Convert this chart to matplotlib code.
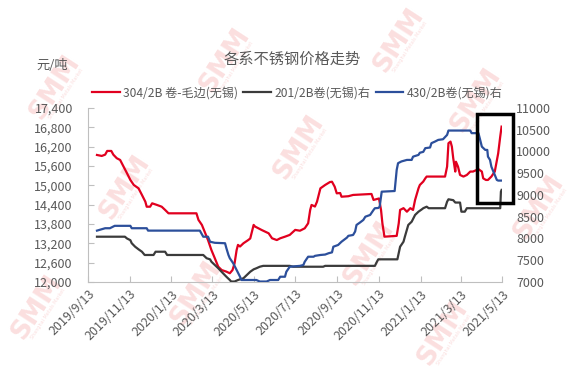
import numpy as np
import pandas as pd
import matplotlib
matplotlib.use("Agg")
import matplotlib.pyplot as plt
import matplotlib.dates as mdates
from matplotlib.patches import Rectangle
from matplotlib.ticker import FuncFormatter

plt.rcParams['font.family'] = ['Noto Sans CJK SC', 'DejaVu Sans']

# 304/2B 卷-毛边(无锡), left axis
dates_304 = ["2019-09-26", "2019-10-03", "2019-10-08", "2019-10-11", "2019-10-17", "2019-10-20",
             "2019-10-25", "2019-10-30", "2019-11-04", "2019-11-09", "2019-11-14", "2019-11-19",
             "2019-11-26", "2019-12-01", "2019-12-06", "2019-12-08", "2019-12-13", "2019-12-16",
             "2019-12-23", "2019-12-30", "2020-01-04", "2020-01-09", "2020-02-19", "2020-02-22",
             "2020-02-27", "2020-03-03", "2020-03-07", "2020-03-12", "2020-03-17", "2020-03-22",
             "2020-03-27", "2020-04-03", "2020-04-08", "2020-04-12", "2020-04-15", "2020-04-18",
             "2020-04-20", "2020-04-23", "2020-04-28", "2020-05-05", "2020-05-08", "2020-05-13",
             "2020-05-15", "2020-05-20", "2020-05-25", "2020-05-30", "2020-06-04", "2020-06-09",
             "2020-06-16", "2020-06-21", "2020-06-28", "2020-07-05", "2020-07-13", "2020-07-20",
             "2020-07-27", "2020-08-01", "2020-08-04", "2020-08-06", "2020-08-11", "2020-08-14",
             "2020-08-19", "2020-08-26", "2020-09-02", "2020-09-05", "2020-09-09", "2020-09-12",
             "2020-09-17", "2020-09-19", "2020-09-29", "2020-10-06", "2020-11-02", "2020-11-05",
             "2020-11-13", "2020-11-16", "2020-11-18", "2020-11-21", "2020-12-09", "2020-12-12",
             "2020-12-14", "2020-12-19", "2020-12-24", "2020-12-29", "2021-01-02", "2021-01-05",
             "2021-01-10", "2021-01-12", "2021-01-17", "2021-01-20", "2021-01-22", "2021-02-18",
             "2021-02-21", "2021-02-23", "2021-02-26", "2021-02-28", "2021-03-02", "2021-03-05",
             "2021-03-06", "2021-03-09", "2021-03-12", "2021-03-17", "2021-03-22", "2021-03-27",
             "2021-03-31", "2021-04-08", "2021-04-13", "2021-04-15", "2021-04-19", "2021-04-22",
             "2021-04-27", "2021-05-02", "2021-05-07", "2021-05-10", "2021-05-12"]
price_304 = [15940, 15910, 15950, 16065, 16065, 15950,
             15840, 15785, 15580, 15375, 15165, 15010,
             14905, 14700, 14490, 14335, 14335, 14440,
             14390, 14335, 14235, 14130, 14130, 13925,
             13770, 13510, 13300, 12990, 12735, 12475,
             12370, 12320, 12270, 12370, 12580, 12990,
             13150, 13100, 13200, 13300, 13350, 13770,
             13720, 13665, 13610, 13560, 13510, 13355,
             13300, 13355, 13405, 13460, 13615, 13590,
             13665, 13820, 14235, 14390, 14340, 14490,
             14905, 15010, 15100, 15110, 14955, 14750,
             14760, 14645, 14660, 14700, 14730, 14545,
             14590, 14235, 13820, 13405, 13430, 13820,
             14235, 14290, 14180, 14290, 14235, 14545,
             14905, 15010, 15115, 15215, 15270, 15270,
             15580, 16305, 16355, 16200, 15840, 15425,
             15730, 15580, 15320, 15270, 15320, 15425,
             15425, 15500, 15425, 15215, 15165, 15165,
             15270, 15425, 15990, 16510, 16820]

# 201/2B卷(无锡), right axis
dates_201 = ["2019-09-26", "2019-11-06", "2019-11-09", "2019-11-14", "2019-11-16", "2019-11-21",
             "2019-11-26", "2019-12-01", "2019-12-05", "2019-12-18", "2019-12-21", "2020-01-04",
             "2020-01-07", "2020-02-29", "2020-03-05", "2020-03-10", "2020-03-12", "2020-03-17",
             "2020-03-22", "2020-03-29", "2020-04-03", "2020-04-08", "2020-04-10", "2020-04-15",
             "2020-04-20", "2020-04-28", "2020-05-03", "2020-05-08", "2020-05-13", "2020-05-17",
             "2020-05-22", "2020-05-27", "2020-07-05", "2020-07-10", "2020-08-23", "2020-08-26",
             "2020-11-07", "2020-11-10", "2020-11-12", "2020-12-10", "2020-12-14", "2020-12-19",
             "2020-12-21", "2020-12-26", "2020-12-31", "2021-01-05", "2021-01-10", "2021-01-15",
             "2021-01-17", "2021-01-22", "2021-01-25", "2021-02-18", "2021-02-21", "2021-02-23",
             "2021-03-02", "2021-03-05", "2021-03-12", "2021-03-14", "2021-03-19", "2021-03-22",
             "2021-05-10", "2021-05-11", "2021-05-12"]
price_201 = [8040, 8040, 8000, 7960, 7890, 7810,
             7750, 7695, 7620, 7620, 7695, 7695,
             7620, 7620, 7545, 7520, 7465, 7390,
             7315, 7200, 7120, 7045, 7010, 7010,
             7045, 7085, 7160, 7235, 7290, 7315,
             7350, 7370, 7370, 7350, 7350, 7370,
             7370, 7465, 7520, 7520, 7810, 7925,
             8040, 8310, 8385, 8540, 8615, 8670,
             8695, 8730, 8695, 8695, 8845, 8900,
             8880, 8825, 8825, 8615, 8615, 8695,
             8695, 9075, 9115]

# 430/2B卷(无锡), right axis
dates_430 = ["2019-09-26", "2019-10-08", "2019-10-15", "2019-10-22", "2019-11-14", "2019-11-16",
             "2019-12-08", "2019-12-10", "2020-02-24", "2020-02-29", "2020-03-07", "2020-03-10",
             "2020-03-17", "2020-04-01", "2020-04-03", "2020-04-06", "2020-04-08", "2020-04-13",
             "2020-04-18", "2020-04-23", "2020-04-25", "2020-05-17", "2020-05-22", "2020-06-01",
             "2020-06-06", "2020-06-18", "2020-06-21", "2020-06-28", "2020-06-30", "2020-07-05",
             "2020-07-20", "2020-07-25", "2020-07-27", "2020-08-01", "2020-08-09", "2020-08-11",
             "2020-08-19", "2020-08-26", "2020-08-31", "2020-09-05", "2020-09-07", "2020-09-14",
             "2020-09-19", "2020-09-27", "2020-09-29", "2020-10-06", "2020-10-09", "2020-10-11",
             "2020-10-16", "2020-10-21", "2020-10-24", "2020-10-31", "2020-11-05", "2020-11-07",
             "2020-11-12", "2020-11-14", "2020-11-17", "2020-12-06", "2020-12-09", "2020-12-11",
             "2020-12-16", "2020-12-24", "2020-12-31", "2021-01-02", "2021-01-10", "2021-01-12",
             "2021-01-17", "2021-01-20", "2021-01-27", "2021-01-29", "2021-02-03", "2021-02-08",
             "2021-02-15", "2021-02-21", "2021-02-23", "2021-03-27", "2021-03-29", "2021-04-08",
             "2021-04-10", "2021-04-13", "2021-04-18", "2021-04-21", "2021-04-22", "2021-04-25",
             "2021-04-27", "2021-04-30", "2021-05-02", "2021-05-05", "2021-05-07", "2021-05-12"]
price_430 = [8180, 8235, 8235, 8290, 8290, 8235,
             8235, 8180, 8180, 8040, 8040, 7925,
             7900, 7890, 7775, 7620, 7545, 7430,
             7275, 7120, 7045, 7045, 7010, 7010,
             7045, 7045, 7120, 7120, 7235, 7350,
             7370, 7390, 7465, 7580, 7580, 7600,
             7620, 7630, 7660, 7680, 7810, 7850,
             7925, 8020, 8060, 8080, 8160, 8310,
             8365, 8425, 8500, 8540, 8655, 8695,
             8700, 8730, 9075, 9090, 9575, 9730,
             9770, 9805, 9805, 9880, 9920, 9970,
             9990, 10075, 10090, 10190, 10225, 10265,
             10280, 10380, 10480, 10480, 10420, 10420,
             10300, 10110, 10035, 10035, 9880, 9805,
             9650, 9535, 9460, 9345, 9330, 9330]

tick_dates = ["2019-09-13", "2019-11-13", "2020-01-13", "2020-03-13", "2020-05-13", "2020-07-13",
              "2020-09-13", "2020-11-13", "2021-01-13", "2021-03-13", "2021-05-13"]

# highlight box (dates on x, right-axis values on y)
box_dates = ["2021-04-06", "2021-05-29"]
box_values = [8823, 10862]

# watermark centres, pixel positions in the 576x380 picture
wm_x = [55, 225, 125, 299, 476, 196, 369, 539, 443, 37, 399]
wm_y = [87, 60, 187, 147, 100, 293, 253, 207, 333, 307, 40]

red = "#e1001f"
dark = "#3b3b3b"
blue = "#2c4f9b"
grey_txt = "#595959"

W, H = 576, 380
fig = plt.figure(figsize=(W / 100, H / 100), dpi=100)

# faint SMM watermarks behind everything
for x, y in zip(wm_x, wm_y):
    fig.text(x / W, 1 - y / H, "SMM", rotation=57, ha="center", va="center",
             fontsize=19, fontweight="bold", color="#fbdfdf", zorder=-2, family="DejaVu Sans")
    fig.text((x + 11) / W, 1 - (y + 7) / H, "Shanghai Metals Market", rotation=57, ha="center",
             va="center", fontsize=3.5, color="#fbdfdf", zorder=-2, family="DejaVu Sans")

ax = fig.add_axes([0.153, 0.258, 0.719, 0.458])
ax2 = ax.twinx()
ax.set_facecolor("none")
ax2.set_facecolor("none")

l1, = ax.plot(pd.to_datetime(dates_304), price_304, color=red, lw=1.6)
l2, = ax2.plot(pd.to_datetime(dates_201), price_201, color=dark, lw=1.6)
l3, = ax2.plot(pd.to_datetime(dates_430), price_430, color=blue, lw=1.6)

ticks = pd.to_datetime(tick_dates)
ax.set_xlim(ticks[0], ticks[-1])
ax.set_ylim(12000, 17400)
ax.set_yticks(np.arange(12000, 17401, 600))
ax.yaxis.set_major_formatter(FuncFormatter(lambda v, p: f"{int(v):,}"))
ax2.set_ylim(7000, 11000)
ax2.set_yticks(np.arange(7000, 11001, 500))

ax.set_xticks(ticks)
ax.set_xticklabels([f"{d.year}/{d.month}/{d.day}" for d in ticks], rotation=45,
                   ha="right", va="top", rotation_mode="anchor")

for a in (ax, ax2):
    for s in a.spines.values():
        s.set_visible(False)
ax.spines["left"].set_visible(True)
ax.spines["bottom"].set_visible(True)
ax.spines["left"].set_color("#bfbfbf")
ax.spines["bottom"].set_color("#bfbfbf")

ax.tick_params(axis="y", direction="in", length=4, color="#bfbfbf", labelsize=9,
               labelcolor=grey_txt, pad=11)
ax.tick_params(axis="x", direction="in", length=4, color="#bfbfbf", labelsize=9,
               labelcolor=grey_txt, pad=4)
ax2.tick_params(axis="y", length=0, labelsize=9, labelcolor=grey_txt, pad=10)

bx = mdates.date2num(pd.to_datetime(box_dates))
rect = Rectangle((bx[0], box_values[0]), bx[1] - bx[0], box_values[1] - box_values[0],
                 fill=False, edgecolor="black", lw=2.5, clip_on=False, zorder=5)
ax2.add_patch(rect)

fig.text(0.508, 0.845, "各系不锈钢价格走势", ha="center", va="center", fontsize=11, color=grey_txt)
fig.text(0.064, 0.828, "元/吨", ha="left", va="center", fontsize=9.5, color=grey_txt)

fig.legend([l1, l2, l3], ["304/2B 卷-毛边(无锡)", "201/2B卷(无锡)右", "430/2B卷(无锡)右"],
           loc="center", bbox_to_anchor=(0.516, 0.755), ncol=3, frameon=False, fontsize=8.7,
           handlelength=2.3, handletextpad=0.25, columnspacing=0.45, labelcolor=grey_txt)

fig.savefig("out.png", dpi=100)
